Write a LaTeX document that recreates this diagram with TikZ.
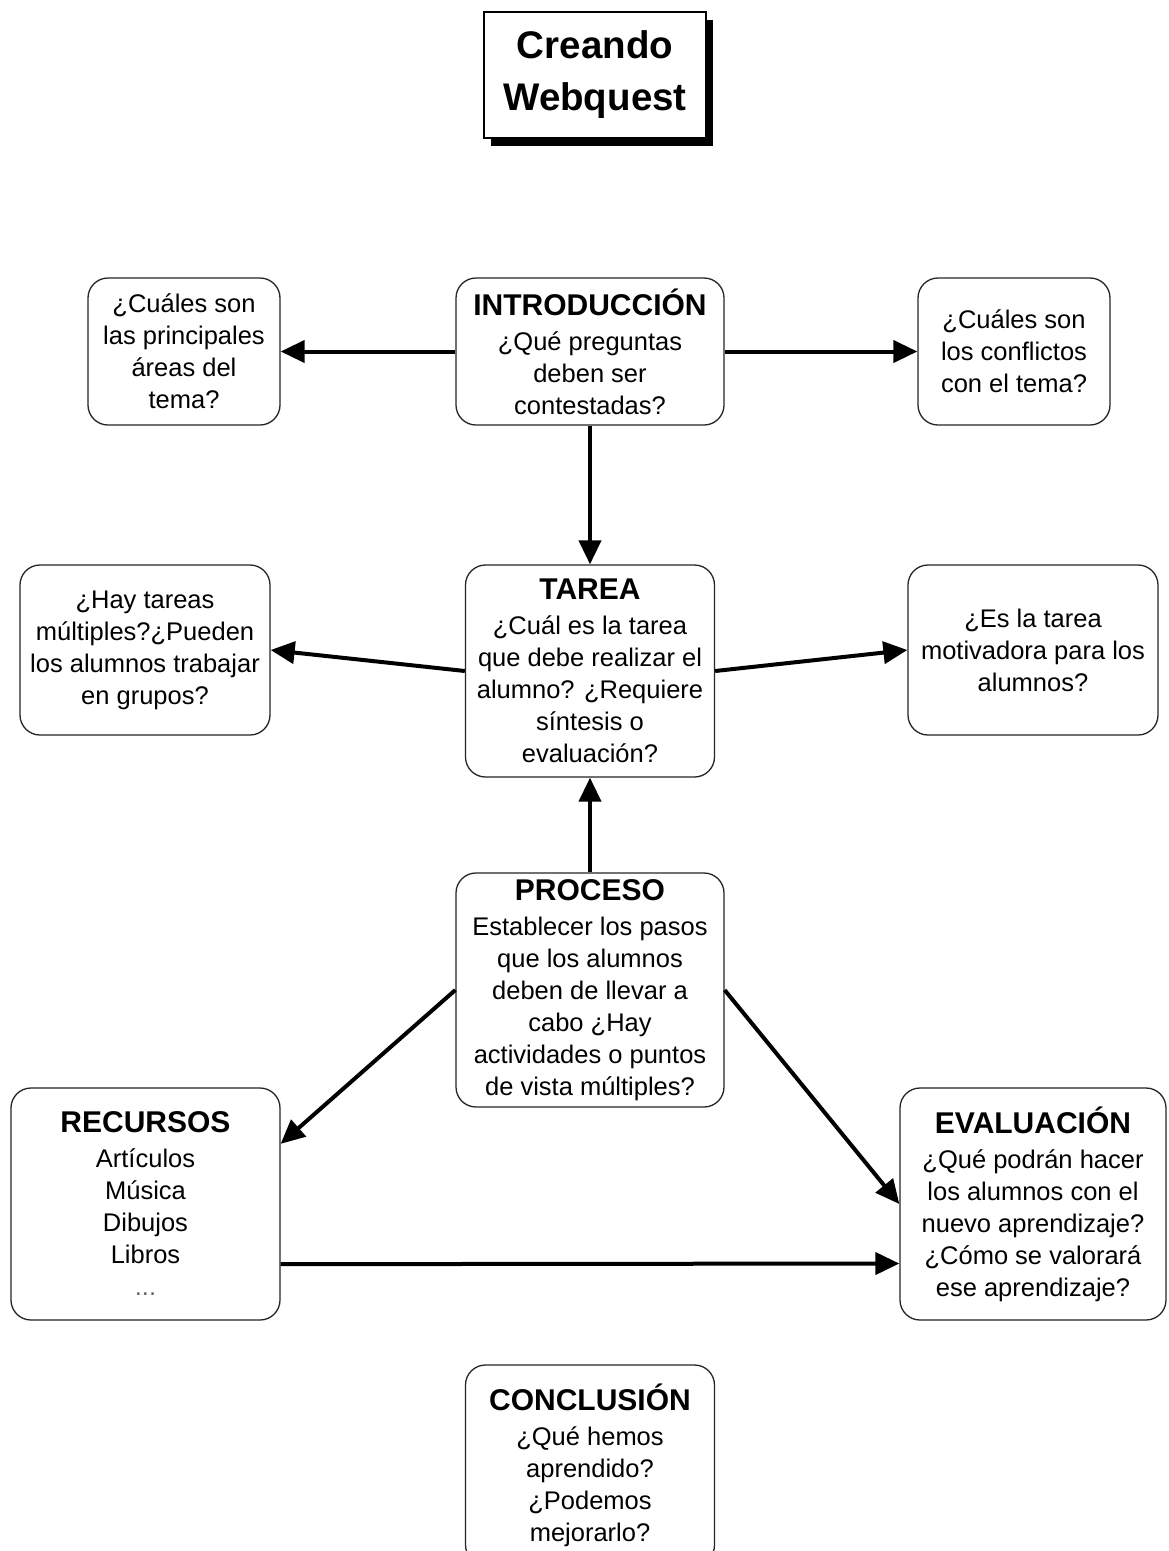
\documentclass[tikz,border=0pt]{standalone}
\usepackage{fontspec}
\setmainfont{Liberation Sans}
\usepackage{tikz}
\usetikzlibrary{arrows.meta,shadows}
\newcommand{\bodyfont}{\fontsize{25.5}{32}\selectfont}
\newcommand{\hd}[1]{{\bfseries\fontsize{30}{32}\selectfont #1}\\[3pt]}
\tikzset{
  >={Triangle[length=24pt,width=22pt]},
  box/.style={draw=black!85,line width=1.3pt,rounded corners=20pt,fill=white,align=center,inner sep=0pt,font=\bodyfont},
  titlebox/.style={draw=black,line width=2.2pt,fill=white,align=center,inner sep=0pt,
    font=\bfseries\fontsize{38.5}{52}\selectfont,
    general shadow={fill=black,shadow xshift=7pt,shadow yshift=-8pt}},
  arr/.style={->,line width=4pt,draw=black}
}
\begin{document}
\begin{tikzpicture}[x=1pt,y=-1pt]
  \useasboundingbox[fill=white] (0,0) rectangle (1168,1551);
  \node[titlebox,minimum width=222pt,minimum height=126pt] (titulo) at (595,75) {Creando\\Webquest};
  % fila superior
  \node[box,minimum width=268pt,minimum height=147pt] (intro) at (590,351.5)
    {\hd{INTRODUCCIÓN}¿Qué preguntas\\deben ser\\contestadas?};
  \node[box,minimum width=192pt,minimum height=147pt] (areas) at (184,351.5)
    {¿Cuáles son\\las principales\\áreas del\\tema?};
  \node[box,minimum width=192pt,minimum height=147pt] (conflictos) at (1014,351.5)
    {¿Cuáles son\\los conflictos\\con el tema?};
  % fila media
  \node[box,minimum width=249pt,minimum height=212pt] (tarea) at (590,671)
    {\hd{TAREA}¿Cuál es la tarea\\que debe realizar el\\alumno? ¿Requiere\\síntesis o\\evaluación?};
  \node[box,minimum width=250pt,minimum height=170pt] (grupos) at (145,650)
    {¿Hay tareas\\múltiples?¿Pueden\\los alumnos trabajar\\en grupos?};
  \node[box,minimum width=250pt,minimum height=170pt] (motiv) at (1033,650)
    {¿Es la tarea\\motivadora para los\\alumnos?};
  % fila inferior
  \node[box,minimum width=268pt,minimum height=234pt] (proceso) at (590,990)
    {\hd{PROCESO}Establecer los pasos\\que los alumnos\\deben de llevar a\\cabo ¿Hay\\actividades o puntos\\de vista múltiples?};
  \node[box,minimum width=269pt,minimum height=232pt] (recursos) at (145.5,1204)
    {\hd{RECURSOS}Artículos\\Música\\Dibujos\\Libros\\{\color{black!60}...}};
  \node[box,minimum width=266pt,minimum height=232pt] (evaluacion) at (1033,1204)
    {\hd{EVALUACIÓN}¿Qué podrán hacer\\los alumnos con el\\nuevo aprendizaje?\\¿Cómo se valorará\\ese aprendizaje?};
  \node[box,minimum width=249pt,minimum height=200pt] (conclusion) at (590,1465)
    {\hd{CONCLUSIÓN}¿Qué hemos\\aprendido?\\¿Podemos\\mejorarlo?};
  % flechas
  \draw[arr] (intro.west) -- (areas.east);
  \draw[arr] (intro.east) -- (conflictos.west);
  \draw[arr] (intro.south) -- (tarea.north);
  \draw[arr] (tarea.west) -- (grupos.east);
  \draw[arr] (tarea.east) -- (motiv.west);
  \draw[arr] (proceso.north) -- (tarea.south);
  \draw[arr] (proceso.west) -- (recursos.24);
  \draw[arr] (proceso.east) -- (evaluacion.west);
  \draw[arr] (recursos.-24) -- (evaluacion.204.6);
\end{tikzpicture}
\end{document}
